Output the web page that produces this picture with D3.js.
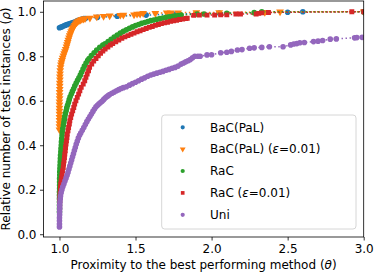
<!DOCTYPE html>
<html><head><meta charset="utf-8">
<script src="https://cdn.jsdelivr.net/npm/d3@7"></script>
<style>body{margin:0;background:#fff}svg{display:block;font-family:"DejaVu Sans",sans-serif}</style>
</head><body><svg id="c" width="374" height="273"></svg>
<script>
const xTicks = [1.0, 1.5, 2.0, 2.5, 3.0];
const yTicks = [0.0, 0.2, 0.4, 0.6, 0.8, 1.0];
const seriesNames = ["BaC(PaL)", "BaC(PaL) (ε=0.01)", "RaC", "RaC (ε=0.01)", "Uni"];

const bacX = [1.000,1.010,1.020,1.030,1.040,1.050,1.060,1.070,1.080,1.090,1.100,1.110,1.120,1.130,1.140,1.150,1.160,1.170,1.25,1.38,1.57,1.75,2.05,2.5,2.6,3.0];
const bacY = [0.928,0.931,0.934,0.937,0.940,0.943,0.945,0.947,0.949,0.951,0.954,0.957,0.960,0.963,0.965,0.967,0.969,0.970,0.975,0.980,0.985,0.990,0.994,0.998,1.0,1.0];

const bacEpsX = [1.000,1.000,1.000,1.000,1.000,1.000,1.000,1.000,1.000,1.000,1.001,1.001,1.001,1.002,1.002,1.002,1.003,1.003,1.004,1.005,1.007,
  1.010,1.013,1.017,1.021,1.026,1.031,1.036,1.041,1.046,1.050,1.054,1.058,1.063,1.067,1.072,1.077,1.082,1.087,1.093,1.099,1.106,1.113,1.120,1.128,1.137,1.147,1.157,1.168,
  1.20,1.245,1.29,1.33,1.40,1.42,1.49,1.51,1.53,1.55,1.63,1.705,1.73,1.78,1.9,2.05,2.35,2.45,3.0];
const bacEpsY = [0.47,0.484,0.498,0.512,0.526,0.54,0.554,0.568,0.582,0.596,0.61,0.624,0.638,0.652,0.666,0.68,0.694,0.708,0.722,0.736,0.75,
  0.762,0.772,0.782,0.792,0.802,0.812,0.822,0.832,0.843,0.853,0.863,0.873,0.883,0.893,0.902,0.911,0.919,0.926,0.933,0.94,0.946,0.952,0.956,0.96,0.963,0.966,0.968,0.970,
  0.972,0.978,0.980,0.982,0.985,0.986,0.987,0.990,0.990,0.993,0.993,0.996,0.996,0.996,0.997,0.997,0.998,1.0,1.0];

const racX = [1.000,1.000,1.000,1.000,1.000,1.000,1.000,1.001,1.001,1.001,1.001,1.002,1.002,1.003,1.004,1.005,1.006,1.007,1.009,1.010,1.012,1.013,1.015,1.017,1.019,1.022,
  1.026,1.029,1.032,1.035,1.039,1.044,1.048,1.053,1.059,1.064,1.070,1.078,1.085,1.093,1.101,1.110,1.119,1.128,1.137,1.145,1.155,1.164,1.175,1.186,
  1.195,1.21,1.228,1.245,1.265,1.285,1.30,1.32,1.34,1.36,1.38,1.40,1.42,1.44,1.46,1.48,1.50,1.52,1.54,1.56,1.58,1.60,1.62,1.64,1.66,1.68,1.70,1.72,1.74,1.76,1.78,1.80,
  1.905,1.95,2.10,2.28,2.33,3.0];
const racY = [0.10,0.115,0.13,0.145,0.16,0.175,0.19,0.205,0.22,0.235,0.25,0.265,0.28,0.295,0.31,0.325,0.34,0.355,0.37,0.385,0.40,0.415,0.43,0.445,0.46,0.475,
  0.49,0.503,0.516,0.529,0.542,0.555,0.568,0.58,0.592,0.605,0.618,0.63,0.642,0.654,0.667,0.68,0.692,0.703,0.715,0.728,0.742,0.756,0.77,0.782,
  0.79,0.803,0.816,0.828,0.84,0.85,0.856,0.866,0.876,0.886,0.895,0.904,0.912,0.919,0.926,0.932,0.938,0.943,0.948,0.952,0.956,0.96,0.963,0.966,0.969,0.972,0.975,0.977,0.979,0.981,0.983,0.985,
  0.99,0.99,0.993,0.996,1.0,1.0];

const racEpsX = [1.000,1.000,1.001,1.001,1.002,1.003,1.004,1.005,1.006,1.008,1.011,1.014,1.017,1.020,1.025,1.027,1.030,1.033,1.035,1.038,1.040,1.043,1.046,1.049,1.051,
  1.056,1.060,1.065,1.068,1.074,1.080,1.087,1.094,1.100,1.108,1.117,1.126,1.134,1.143,1.156,1.166,1.174,1.182,1.191,1.198,
  1.212,1.225,1.24,1.255,1.27,1.285,1.30,1.318,1.335,1.35,1.37,1.39,1.41,1.43,1.45,1.47,1.49,1.51,1.53,1.55,1.57,1.59,1.61,1.63,1.65,1.67,1.69,1.71,1.73,1.75,1.77,1.79,1.81,1.83,1.84,
  1.883,1.92,1.97,2.02,2.06,2.10,2.16,2.19,2.293,2.31,2.33,2.374,2.922,3.0];
const racEpsY = [0.09,0.105,0.12,0.135,0.15,0.165,0.18,0.195,0.21,0.225,0.24,0.255,0.27,0.285,0.30,0.315,0.33,0.345,0.36,0.375,0.39,0.405,0.42,0.435,0.45,
  0.465,0.48,0.495,0.51,0.525,0.54,0.555,0.57,0.585,0.60,0.615,0.63,0.645,0.66,0.675,0.69,0.705,0.72,0.735,0.75,
  0.765,0.778,0.79,0.802,0.813,0.823,0.832,0.842,0.85,0.857,0.865,0.873,0.881,0.887,0.893,0.899,0.904,0.91,0.915,0.92,0.925,0.93,0.934,0.939,0.943,0.947,0.95,0.953,0.957,0.96,0.962,0.965,0.967,0.97,0.971,
  0.984,0.985,0.985,0.985,0.986,0.986,0.99,0.99,0.990,0.993,0.995,0.997,1.0,1.0];

const uniX = [1.000,1.000,1.000,1.000,1.001,1.001,1.002,1.002,1.003,1.005,1.007,1.011,1.016,1.022,1.029,1.036,1.043,1.050,1.056,1.062,1.068,1.074,1.080,1.086,1.092,1.098,1.104,1.110,1.117,1.124,1.132,
  1.14,1.15,1.16,1.17,1.18,1.19,1.20,1.21,1.22,1.23,1.24,1.25,1.26,1.27,1.28,1.29,1.30,1.31,1.32,1.33,1.345,1.36,1.375,1.39,1.405,1.42,1.44,1.46,1.48,1.50,1.52,1.54,1.56,1.58,1.60,1.62,1.64,1.66,1.68,1.70,1.72,1.74,1.76,1.78,1.80,1.815,1.83,1.845,1.86,1.875,1.89,
  1.91,1.925,1.97,2.0,2.06,2.10,2.13,2.17,2.20,2.25,2.28,2.33,2.38,2.47,2.52,2.54,2.56,2.58,2.61,2.67,2.70,2.73,2.78,2.82,2.94,2.955,2.99];
const uniY = [0.033,0.046,0.06,0.074,0.088,0.102,0.116,0.13,0.144,0.158,0.172,0.186,0.20,0.213,0.226,0.239,0.252,0.265,0.278,0.292,0.306,0.32,0.334,0.348,0.362,0.376,0.39,0.404,0.418,0.432,0.445,
  0.455,0.467,0.48,0.493,0.506,0.518,0.529,0.54,0.552,0.563,0.573,0.58,0.586,0.592,0.598,0.605,0.612,0.618,0.623,0.628,0.634,0.639,0.645,0.65,0.655,0.659,0.663,0.67,0.677,0.683,0.69,0.697,0.703,0.71,0.716,0.72,0.724,0.728,0.732,0.737,0.741,0.746,0.75,0.756,0.765,0.77,0.775,0.78,0.785,0.793,0.80,
  0.80,0.80,0.806,0.807,0.816,0.818,0.822,0.828,0.83,0.836,0.838,0.84,0.843,0.843,0.851,0.855,0.857,0.861,0.862,0.866,0.868,0.871,0.877,0.878,0.883,0.884,0.885];

const colors = ["#1f77b4","#ff7f0e","#2ca02c","#d62728","#9467bd"];
const shapes = ["circle","tri","circle","square","circle"];
const allX = [bacX, bacEpsX, racX, racEpsX, uniX];
const allY = [bacY, bacEpsY, racY, racEpsY, uniY];

const svg = d3.select("#c");
const L = 43.5, R = 363.7, T = 1, B = 237;
const x = d3.scaleLinear().domain([0.895, 3.0]).range([L, R]);
const y = d3.scaleLinear().domain([-0.0125, 1.0485]).range([B, T]);

svg.append("defs").append("clipPath").attr("id","clip")
  .append("rect").attr("x",L).attr("y",T).attr("width",R-L).attr("height",B-T);

function sym(shape){
  if(shape==="circle") return d3.symbol(d3.symbolCircle, 25)();
  if(shape==="square") return d3.symbol(d3.symbolSquare, 24)();
  return d3.symbol(d3.symbolTriangle, 26)();
}

const plot = svg.append("g").attr("clip-path","url(#clip)");
allX.forEach((xs,i)=>{
  const pts = xs.map((v,j)=>[v, allY[i][j]]);
  const g = plot.append("g");
  g.append("path").attr("d", d3.line().x(d=>x(d[0])).y(d=>y(d[1]))(pts))
    .attr("fill","none").attr("stroke",colors[i]).attr("stroke-width",1.5).attr("stroke-dasharray","1.5,2.5");
  g.selectAll("path.m").data(pts).enter().append("path").attr("class","m")
    .attr("d", sym(shapes[i]))
    .attr("transform", d=>`translate(${x(d[0])},${y(d[1])})` + (shapes[i]==="tri"?" rotate(180)":""))
    .attr("fill",colors[i]);
});

// axes
const xa = svg.append("g").attr("transform",`translate(0,${B})`)
  .call(d3.axisBottom(x).tickValues(xTicks).tickFormat(d3.format(".1f")).tickSize(3.5).tickPadding(3.5));
const ya = svg.append("g").attr("transform",`translate(${L},0)`)
  .call(d3.axisLeft(y).tickValues(yTicks).tickFormat(d3.format(".1f")).tickSize(3.5).tickPadding(3.5));
[xa,ya].forEach(a=>{
  a.select(".domain").remove();
  a.selectAll("line").attr("stroke","#000").attr("stroke-width",0.8);
  a.selectAll("text").attr("font-size","12px").attr("fill","#000").attr("font-family","DejaVu Sans");
});
svg.append("rect").attr("x",L).attr("y",T).attr("width",R-L).attr("height",B-T)
  .attr("fill","none").attr("stroke","#000").attr("stroke-width",0.8);

// labels
const xl = svg.append("text").attr("x",(L+R)/2).attr("y",269).attr("text-anchor","middle").attr("font-size","12px");
xl.append("tspan").text("Proximity to the best performing method (");
xl.append("tspan").attr("font-style","italic").text("θ");
xl.append("tspan").text(")");
const yl = svg.append("text").attr("transform",`translate(9.5,${(T+B)/2}) rotate(-90)`).attr("text-anchor","middle").attr("font-size","12px");
yl.append("tspan").text("Relative number of test instances (");
yl.append("tspan").attr("font-style","italic").text("ρ");
yl.append("tspan").text(")");

// legend
const lg = svg.append("g");
lg.append("rect").attr("x",161.7).attr("y",115).attr("width",194.3).attr("height",114).attr("rx",3)
  .attr("fill","#fff").attr("fill-opacity",0.8).attr("stroke","#ccc").attr("stroke-width",0.8);
const rowY = [127.3,149.1,171,192.9,214.8];
seriesNames.forEach((n,i)=>{
  lg.append("path").attr("d", sym(shapes[i])).attr("fill",colors[i])
    .attr("transform",`translate(182.7,${rowY[i]})`+(shapes[i]==="tri"?" rotate(180) scale(0.75)":" scale(0.75)"));
  const t = lg.append("text").attr("x",210).attr("y",rowY[i]+4.3).attr("font-size","12px");
  const m = n.match(/^(.*)\(ε(=0\.01)\)$/);
  if(m){
    t.append("tspan").text(m[1]+"(");
    t.append("tspan").attr("font-style","italic").text("ε");
    t.append("tspan").text(m[2]+")");
  } else t.text(n);
});
</script></body></html>
